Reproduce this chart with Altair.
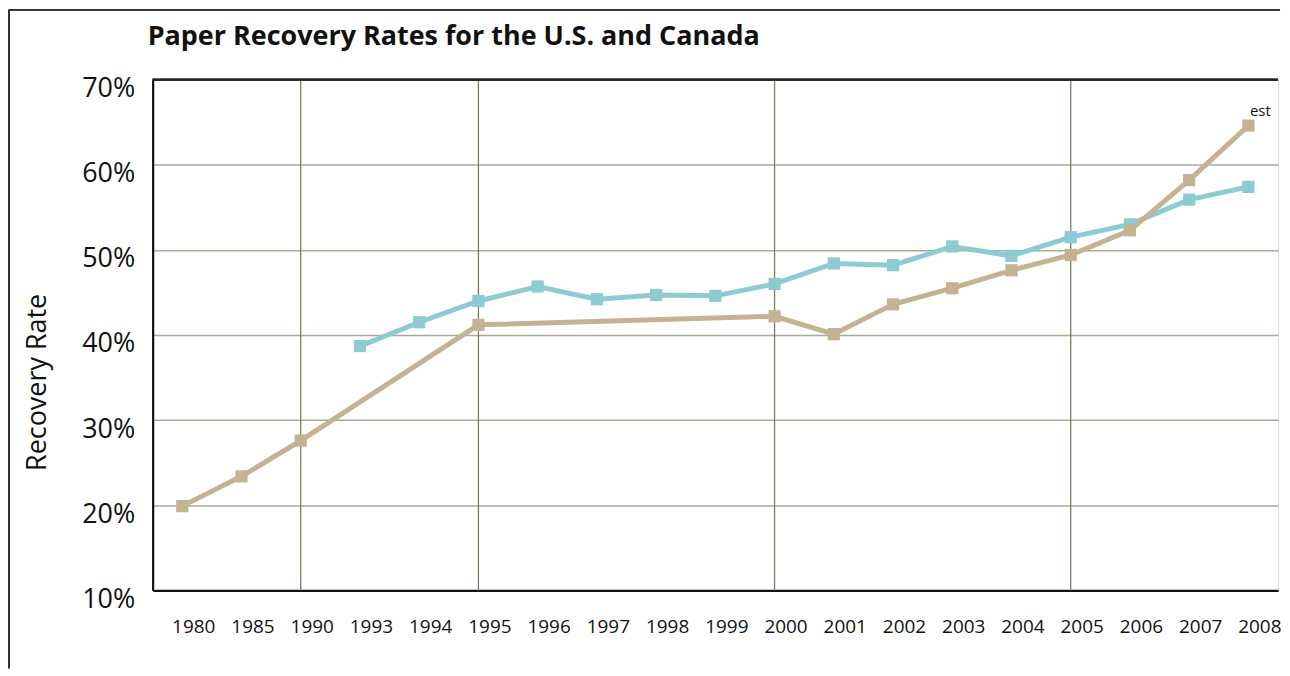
import altair as alt
import pandas as pd

years = ["1980", "1985", "1990", "1993", "1994", "1995", "1996", "1997", "1998", "1999",
         "2000", "2001", "2002", "2003", "2004", "2005", "2006", "2007", "2008"]
# blue series (None = no data)
blue_vals = [None, None, None, 38.7, 41.5, 44.0, 45.7, 44.2, 44.7, 44.6,
             46.0, 48.4, 48.2, 50.4, 49.3, 51.5, 53.0, 55.9, 57.4]
# tan series
tan_vals = [19.9, 23.4, 27.6, None, None, 41.2, None, None, None, None,
            42.2, 40.1, 43.6, 45.5, 47.6, 49.4, 52.3, 58.2, 64.6]
grid_years = ["1990", "1995", "2000", "2005"]
y_ticks = [10, 20, 30, 40, 50, 60, 70]
note_year = ["2008"]
note_value = [64.6]
note_text = ["est"]
title_text = ["Paper Recovery Rates for the U.S. and Canada"]

rows = []
for y, v in zip(years, blue_vals):
    if v is not None:
        rows.append({"year": y, "rate": v, "series": "U.S."})
for y, v in zip(years, tan_vals):
    if v is not None:
        rows.append({"year": y, "rate": v, "series": "Canada"})
df = pd.DataFrame(rows)
grid_df = pd.DataFrame({"year": grid_years})
note_df = pd.DataFrame({"year": note_year, "rate": note_value, "label": note_text})
title_df = pd.DataFrame({"t": title_text})

W, H = 1128, 512
FONT = "Open Sans"

xscale = alt.Scale(type="point", domain=years, padding=0.5)
yscale = alt.Scale(domain=[10, 70], nice=False, zero=False)
color_scale = alt.Scale(domain=["U.S.", "Canada"], range=["#8ccbd1", "#c4b393"])

x_enc = alt.X("year:O", scale=xscale, sort=years,
              axis=alt.Axis(title=None, labelAngle=0, ticks=False, grid=False,
                            domainColor="#111111", domainWidth=2.2,
                            labelFont=FONT, labelFontSize=19, labelColor="#111111",
                            labelPadding=27, labelOffset=11))
y_enc = alt.Y("rate:Q", scale=yscale,
              axis=alt.Axis(title="Recovery Rate", values=y_ticks,
                            labelExpr="datum.value + '%'", ticks=False,
                            grid=True, gridColor="#a9ab94", gridWidth=1.5,
                            domainColor="#111111", domainWidth=2.2,
                            labelFont=FONT, labelFontSize=27, labelColor="#111111",
                            labelPadding=18, labelOffset=9,
                            titleFont=FONT, titleFontSize=27, titleFontWeight="normal",
                            titleColor="#111111", titlePadding=30, titleY=303))

vgrid = alt.Chart(grid_df).mark_rule(color="#7b7d63", strokeWidth=1.3).encode(
    x=alt.X("year:O", scale=xscale, sort=years),
    y=alt.datum(70), y2=alt.datum(10))

top_line = alt.Chart(grid_df).mark_rule(color="#222222", strokeWidth=1.8).encode(
    y=alt.datum(70), x=alt.value(0), x2=alt.value(W))

lines = alt.Chart(df).mark_line(strokeWidth=5).encode(
    x=x_enc, y=y_enc,
    color=alt.Color("series:N", scale=color_scale, legend=None),
    detail="series:N")

pts = alt.Chart(df).mark_square(size=150, opacity=1, filled=True).encode(
    x=alt.X("year:O", scale=xscale, sort=years),
    y=alt.Y("rate:Q", scale=yscale),
    color=alt.Color("series:N", scale=color_scale, legend=None))

note = alt.Chart(note_df).mark_text(font=FONT, fontSize=15, color="#111111",
                                    dx=12, dy=-15).encode(
    x=alt.X("year:O", scale=xscale, sort=years),
    y=alt.Y("rate:Q", scale=yscale),
    text="label:N")

title = alt.Chart(title_df).mark_text(font=FONT, fontSize=27, fontWeight="bold",
                                      color="#111111", align="left",
                                      baseline="alphabetic").encode(
    x=alt.value(-5), y=alt.value(-35), text="t:N")

frame_left = alt.Chart(grid_df).mark_rule(color="#333333", strokeWidth=1.5).encode(
    x=alt.value(-144), y=alt.value(-70), y2=alt.value(590))
frame_top = alt.Chart(grid_df).mark_rule(color="#333333", strokeWidth=1.5).encode(
    x=alt.value(-144), x2=alt.value(1130), y=alt.value(-70))

chart = alt.layer(lines, vgrid, top_line, pts, note, title, frame_left, frame_top).properties(
    width=W, height=H, padding=0,
).configure_view(stroke="transparent").configure(background="white")

chart.save("out.html", embed_options={"renderer": "svg", "actions": False})
